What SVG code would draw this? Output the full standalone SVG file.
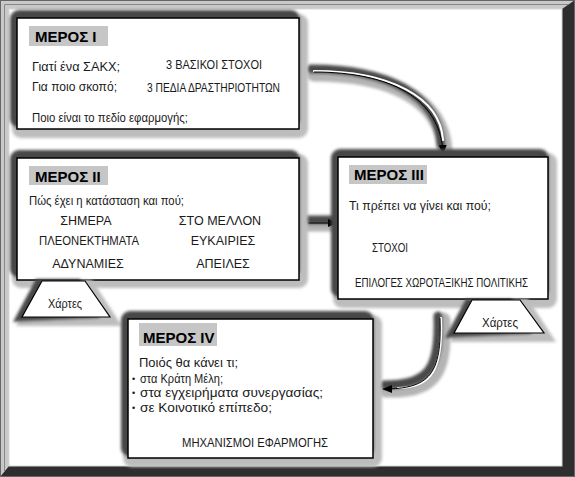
<svg xmlns="http://www.w3.org/2000/svg" width="575" height="477" viewBox="0 0 575 477">
<style>
.t{font-family:"Liberation Sans",Arial,"Noto Sans",sans-serif;font-size:12.5px;fill:#1a1a1a}
.c{font-size:12px}
.h{font-weight:bold;font-size:15px;fill:#000}
.hb{fill:#c6c6c6}
.box{fill:#fff;stroke:#000;stroke-width:1.5}
.fd{fill:#474747}
.fl{fill:#bdbdbd}
.td{fill:none;stroke:#4a4a4a;stroke-width:9;stroke-linecap:round}
.tl{fill:none;stroke:#b4b4b4;stroke-width:15;stroke-linecap:round}
.tw{fill:none;stroke:#fff;stroke-width:2.2;stroke-linecap:round}
.tk{fill:none;stroke:#000;stroke-width:1;marker-end:url(#ah)}
.bu{font-size:9px}
</style>
<defs>
<filter id="bl" x="-10%" y="-10%" width="120%" height="120%"><feGaussianBlur stdDeviation="1.6"/></filter>
<marker id="ah" viewBox="0 0 10 8" refX="9" refY="4" markerWidth="10" markerHeight="8" markerUnits="userSpaceOnUse" orient="auto"><path d="M0,0 L10,4 L0,8 Z" fill="#000"/></marker>
</defs>
<!-- outer bevel frame -->
<rect x="0" y="0" width="575" height="477" fill="#2e2e2e"/>
<polygon points="0,0 575,0 562,9 9,9 9,466 0,477" fill="#c9c9c9"/>
<rect x="0.5" y="0.5" width="574" height="476" fill="none" stroke="#666"/>
<polyline points="4.5,472 4.5,4.5 568,4.5" fill="none" stroke="#888" stroke-width="1"/>
<rect x="9" y="9" width="553" height="457" fill="#fff" stroke="#d8d8d8" stroke-width="1"/>

<g id="connectors">
<g filter="url(#bl)">
<path class="tl" d="M314,74 C390,74 442,99 445,151"/>
<path class="td" d="M311,69 C388,69 438,95 441,145"/>
<path class="tl" d="M307,224 L337,224" stroke-width="17"/>
<path class="td" d="M305,220 L333,220" stroke-width="10"/>
<path class="tl" d="M443,320 C445,377 432,391 386,390"/>
<path class="td" d="M438,316 C440,370 428,385 384,385"/>
</g>
<path class="tw" d="M314,71 C390,71 440,97 443,140"/>
<path class="tk" d="M314,72 C390,72 441,98 443,154"/>
<path class="tk" d="M308,223 L337,223"/>
<path class="tw" d="M441,318 C443,372 430,388 398,388"/>
<path class="tk" d="M440,318 C442,374 430,389 383,389"/>
</g>

<g id="box1">
<g filter="url(#bl)">
<rect class="fl" x="12" y="14" width="296" height="124" rx="9"/>
<rect class="fd" x="10" y="10" width="290" height="118" rx="9"/>
</g>
<rect class="box" x="17" y="18" width="282" height="111"/>
<rect class="hb" x="29" y="26" width="79" height="20"/>
<text class="t h" x="35" y="42">ΜΕΡΟΣ  I</text>
<text class="t" x="32" y="71" textLength="88" lengthAdjust="spacingAndGlyphs">Γιατί ένα ΣΑΚΧ;</text>
<text class="t c" x="166" y="69" textLength="96" lengthAdjust="spacingAndGlyphs">3 ΒΑΣΙΚΟΙ ΣΤΟΧΟΙ</text>
<text class="t" x="32" y="91" textLength="85" lengthAdjust="spacingAndGlyphs">Για ποιο σκοπό;</text>
<text class="t c" x="147" y="92" textLength="133" lengthAdjust="spacingAndGlyphs">3 ΠΕΔΙΑ ΔΡΑΣΤΗΡΙΟΤΗΤΩΝ</text>
<text class="t" x="32" y="122" textLength="156" lengthAdjust="spacingAndGlyphs">Ποιο είναι το πεδίο εφαρμογής;</text>
</g>

<g id="box2">
<g filter="url(#bl)">
<rect class="fl" x="12" y="154" width="296" height="134" rx="9"/>
<rect class="fd" x="10" y="150" width="290" height="128" rx="9"/>
</g>
<rect class="box" x="17" y="158" width="282" height="122"/>
<rect class="hb" x="29" y="166" width="79" height="19"/>
<text class="t h" x="35" y="182">ΜΕΡΟΣ  II</text>
<text class="t" x="29" y="205" textLength="155" lengthAdjust="spacingAndGlyphs">Πώς έχει η κατάσταση και πού;</text>
<g class="t" text-anchor="middle">
<text x="86" y="225">ΣΗΜΕΡΑ</text>
<text x="89" y="245" textLength="100" lengthAdjust="spacingAndGlyphs">ΠΛΕΟΝΕΚΤΗΜΑΤΑ</text>
<text x="88" y="268">ΑΔΥΝΑΜΙΕΣ</text>
<text x="220" y="225">ΣΤΟ ΜΕΛΛΟΝ</text>
<text x="223" y="245">ΕΥΚΑΙΡΙΕΣ</text>
<text x="223" y="268">ΑΠΕΙΛΕΣ</text>
</g>
</g>

<g id="map1">
<g filter="url(#bl)">
<polygon points="40,280 92,280 122,326 16,326" fill="#bdbdbd"/>
<polygon points="36,279 80,279 100,318 13,322" fill="#474747"/>
</g>
<polygon points="42,281 85,281 110,317 22,317" fill="#fff" stroke="#000" stroke-width="1.2"/>
<text class="t" x="65" y="308" text-anchor="middle" textLength="34" lengthAdjust="spacingAndGlyphs">Χάρτες</text>
</g>

<g id="box3">
<g filter="url(#bl)">
<rect class="fl" x="333" y="153" width="224" height="155" rx="9"/>
<rect class="fd" x="331" y="149" width="218" height="149" rx="9"/>
</g>
<rect class="box" x="338" y="157" width="210" height="142"/>
<rect class="hb" x="349" y="165" width="78" height="19"/>
<text class="t h" x="354" y="180">ΜΕΡΟΣ  III</text>
<text class="t" x="349" y="210" textLength="142" lengthAdjust="spacingAndGlyphs">Τι πρέπει να γίνει και πού;</text>
<text class="t c" x="372" y="252" textLength="36" lengthAdjust="spacingAndGlyphs">ΣΤΟΧΟΙ</text>
<text class="t c" x="355" y="287" textLength="173" lengthAdjust="spacingAndGlyphs">ΕΠΙΛΟΓΕΣ ΧΩΡΟΤΑΞΙΚΗΣ ΠΟΛΙΤΙΚΗΣ</text>
</g>

<g id="map2">
<g filter="url(#bl)">
<polygon points="470,299 528,299 556,342 450,342" fill="#bdbdbd"/>
<polygon points="466,299 512,299 532,334 445,338" fill="#474747"/>
</g>
<polygon points="472,300 520,300 544,333 454,333" fill="#fff" stroke="#000" stroke-width="1.2"/>
<text class="t" x="500" y="327" text-anchor="middle" textLength="36" lengthAdjust="spacingAndGlyphs">Χάρτες</text>
</g>

<g id="box4">
<g filter="url(#bl)">
<rect class="fl" x="123" y="315" width="259" height="152" rx="9"/>
<rect class="fd" x="121" y="311" width="253" height="146" rx="9"/>
</g>
<rect class="box" x="128" y="319" width="245" height="139"/>
<rect class="hb" x="139" y="323" width="78" height="23"/>
<text class="t h" x="143" y="343">ΜΕΡΟΣ  IV</text>
<text class="t" x="139" y="367" font-size="13" textLength="99" lengthAdjust="spacingAndGlyphs">Ποιός θα κάνει τι;</text>
<text class="t bu" x="132" y="382">•</text>
<text class="t" x="140" y="383" font-size="13" textLength="83" lengthAdjust="spacingAndGlyphs">στα Κράτη Μέλη;</text>
<text class="t bu" x="132" y="396">•</text>
<text class="t" x="140" y="397" font-size="13" textLength="183" lengthAdjust="spacingAndGlyphs">στα εγχειρήματα συνεργασίας;</text>
<text class="t bu" x="132" y="411">•</text>
<text class="t" x="140" y="412" font-size="13" textLength="132" lengthAdjust="spacingAndGlyphs">σε Κοινοτικό επίπεδο;</text>
<text class="t c" x="182" y="447" textLength="146" lengthAdjust="spacingAndGlyphs">ΜΗΧΑΝΙΣΜΟΙ ΕΦΑΡΜΟΓΗΣ</text>
</g>
</svg>
